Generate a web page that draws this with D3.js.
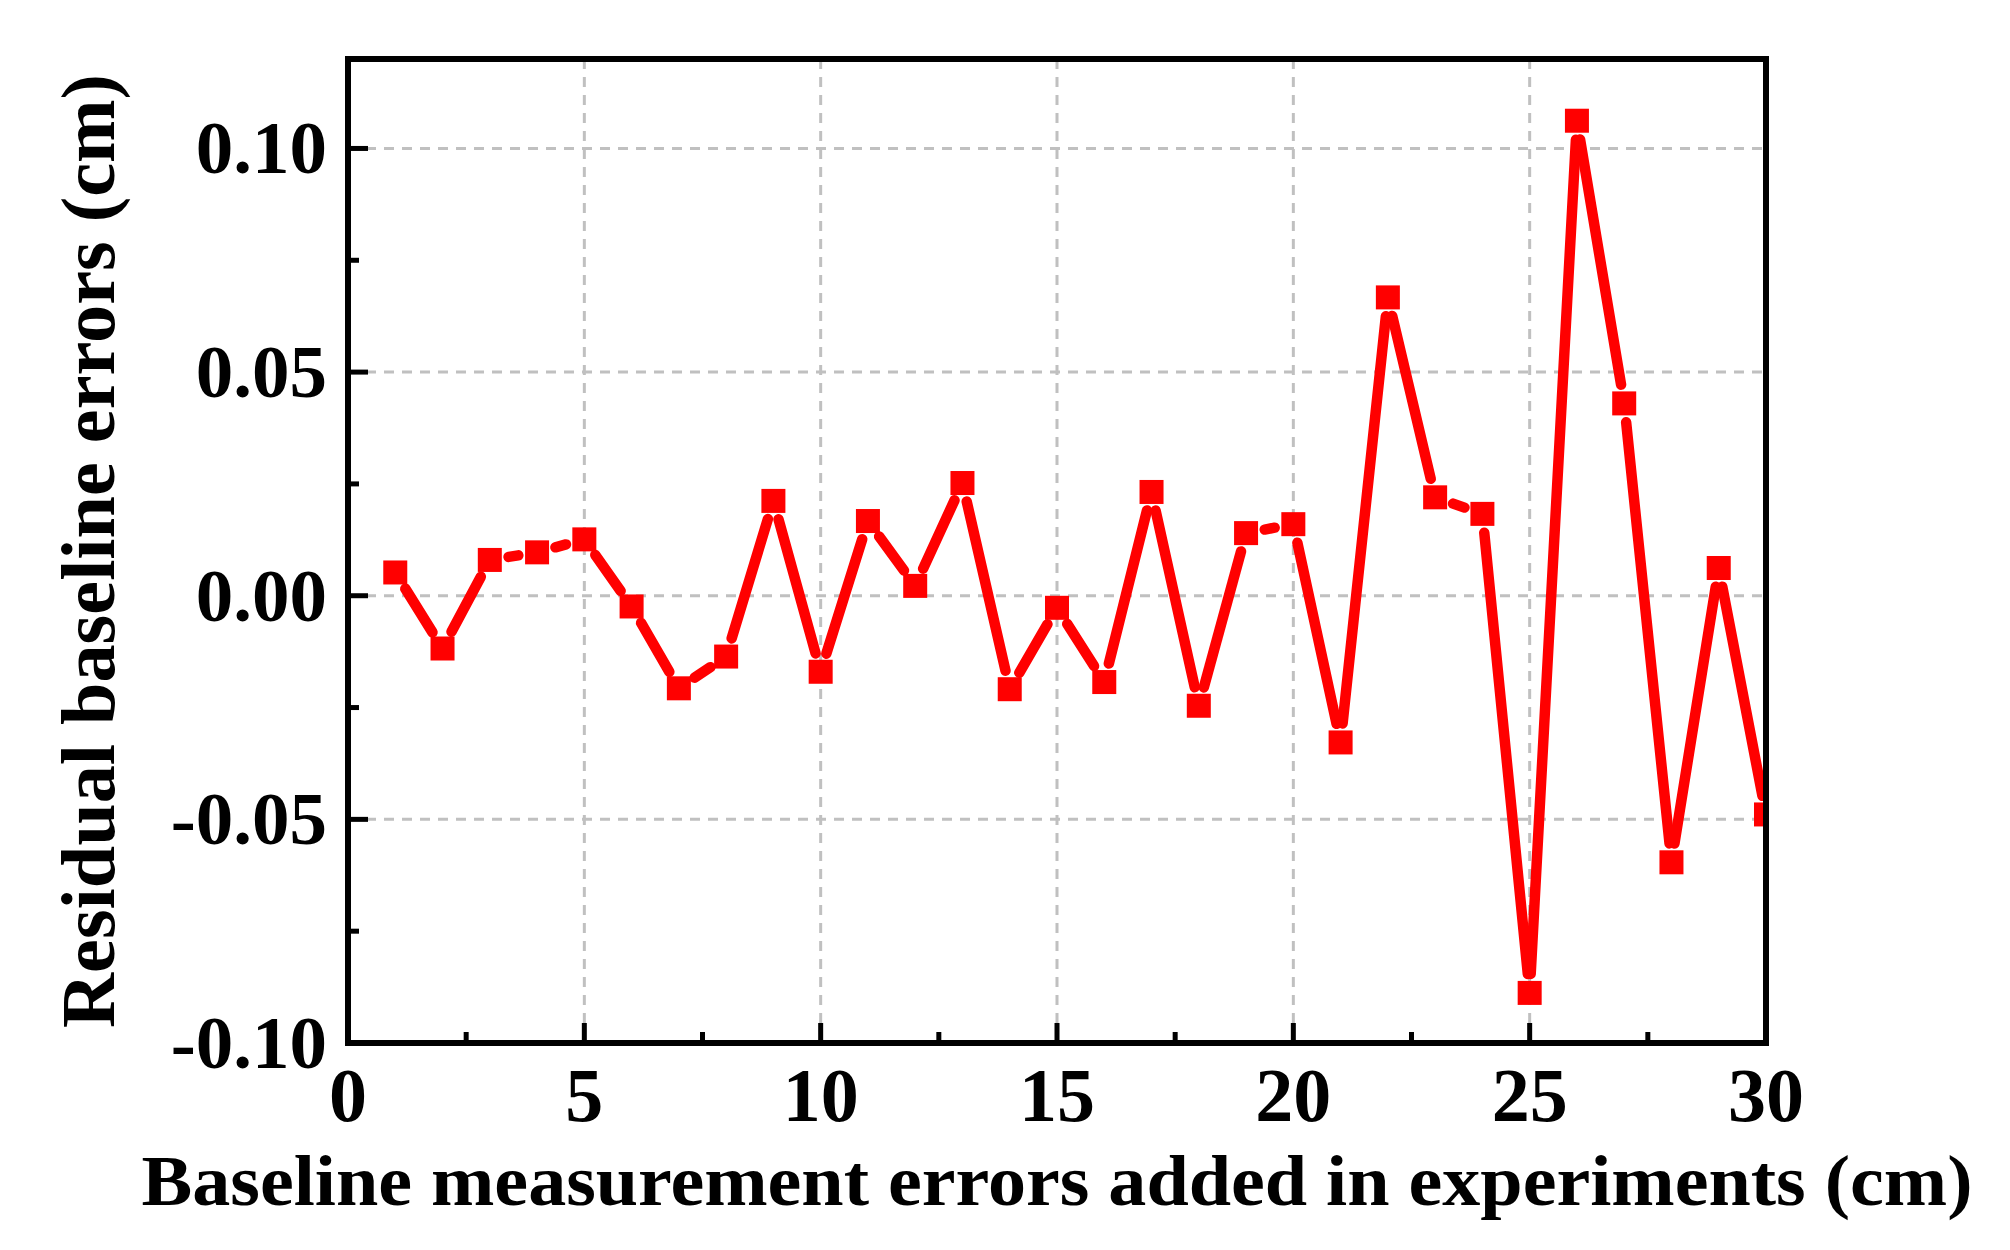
<!DOCTYPE html>
<html>
<head>
<meta charset="utf-8">
<script src="https://cdn.jsdelivr.net/npm/d3@7"></script>
<style>
  html, body { margin: 0; padding: 0; background: #fff; }
  svg { display: block; }
</style>
</head>
<body>
<svg id="chart" width="2010" height="1250"></svg>
<script>
// ---- data ----
const xValues = [1,2,3,4,5,6,7,8,9,10,11,12,13,14,15,16,17,18,19,20,21,22,23,24,25,26,27,28,29,30];
const residuals = [0.0052,-0.0118,0.0080,0.0097,0.0126,-0.0024,-0.0207,-0.0136,0.0212,-0.0170,
                   0.0167,0.0022,0.0252,-0.0209,-0.0027,-0.0193,0.0232,-0.0246,0.0140,0.0160,
                   -0.0328,0.0667,0.0220,0.0183,-0.0888,0.1062,0.0430,-0.0596,0.0062,-0.0489];
const xMajorTicks = [0,5,10,15,20,25,30];
const xMinorTicks = [2.5,7.5,12.5,17.5,22.5,27.5];
const yMajorTicks = [-0.10,-0.05,0.00,0.05,0.10];
const yMinorTicks = [-0.075,-0.025,0.025,0.075];
const yTickLabels = ["-0.10","-0.05","0.00","0.05","0.10"];
const xTitle = "Baseline measurement errors added in experiments (cm)";
const yTitle = "Residual baseline errors (cm)";

// ---- layout ----
const L = 348, R = 1766, T = 59, B = 1043;
const FONT = "'Liberation Serif','Times New Roman',serif";
const svg = d3.select("#chart");
const x = d3.scaleLinear().domain([0,30]).range([L,R]);
const y = d3.scaleLinear().domain([-0.10,0.12]).range([B,T]);

svg.append("defs").append("clipPath").attr("id","plotclip")
  .append("rect").attr("x",L).attr("y",T).attr("width",R-L).attr("height",B-T);

// grid
const grid = svg.append("g").attr("stroke","#c0c0c0").attr("stroke-width",3).attr("stroke-dasharray","10,8");
grid.selectAll("line.gx").data(xMajorTicks.filter(d => d > 0 && d < 30)).enter().append("line")
  .attr("x1",d=>x(d)).attr("x2",d=>x(d)).attr("y1",T).attr("y2",B);
grid.selectAll("line.gy").data(yMajorTicks.filter(d => d > -0.1)).enter().append("line")
  .attr("y1",d=>y(d)).attr("y2",d=>y(d)).attr("x1",L).attr("x2",R);

// data line with gaps near symbols
const pts = xValues.map((xv,i)=>({px:x(xv), py:y(residuals[i])}));
const gap = 19;
const segs = [];
for (let i=0;i<pts.length-1;i++){
  const a=pts[i], b=pts[i+1];
  const dx=b.px-a.px, dy=b.py-a.py, d=Math.hypot(dx,dy);
  if (d>2*gap){
    const ux=dx/d, uy=dy/d;
    segs.push({x1:a.px+ux*gap,y1:a.py+uy*gap,x2:b.px-ux*gap,y2:b.py-uy*gap});
  }
}
const plot = svg.append("g").attr("clip-path","url(#plotclip)");
plot.selectAll("line.seg").data(segs).enter().append("line")
  .attr("x1",d=>d.x1).attr("y1",d=>d.y1).attr("x2",d=>d.x2).attr("y2",d=>d.y2)
  .attr("stroke","#ff0000").attr("stroke-width",10.5).attr("stroke-linecap","round");

const ms = 24;
plot.selectAll("rect.m").data(xValues).enter().append("rect")
  .attr("x",(d)=>x(d)-ms/2).attr("y",(d,i)=>y(residuals[i])-ms/2)
  .attr("width",ms).attr("height",ms).attr("fill","#ff0000");

// ticks (inward, bottom and left only)
const tk = svg.append("g").attr("stroke","#000").attr("stroke-width",5);
tk.selectAll("line.xM").data(xMajorTicks).enter().append("line")
  .attr("x1",d=>x(d)).attr("x2",d=>x(d)).attr("y1",B).attr("y2",B-20);
tk.selectAll("line.xm").data(xMinorTicks).enter().append("line")
  .attr("x1",d=>x(d)).attr("x2",d=>x(d)).attr("y1",B).attr("y2",B-11);
tk.selectAll("line.yM").data(yMajorTicks).enter().append("line")
  .attr("y1",d=>y(d)).attr("y2",d=>y(d)).attr("x1",L).attr("x2",L+20);
tk.selectAll("line.ym").data(yMinorTicks).enter().append("line")
  .attr("y1",d=>y(d)).attr("y2",d=>y(d)).attr("x1",L).attr("x2",L+11);

// frame
svg.append("rect").attr("x",L).attr("y",T).attr("width",R-L).attr("height",B-T)
  .attr("fill","none").attr("stroke","#000").attr("stroke-width",6);

// tick labels
svg.append("g").selectAll("text").data(xMajorTicks).enter().append("text")
  .attr("x",d=>x(d)).attr("y",1121).attr("text-anchor","middle")
  .attr("font-family",FONT).attr("font-weight","bold").attr("font-size",76)
  .text(d=>String(d));
svg.append("g").selectAll("text").data(yMajorTicks).enter().append("text")
  .attr("x",327).attr("y",d=>y(d)+25).attr("text-anchor","end")
  .attr("font-family",FONT).attr("font-weight","bold").attr("font-size",75)
  .text((d,i)=>yTickLabels[i]);

// axis titles
svg.append("text").attr("x",(L+R)/2).attr("y",1205).attr("text-anchor","middle")
  .attr("font-family",FONT).attr("font-weight","bold").attr("font-size",72)
  .attr("textLength",1831).attr("lengthAdjust","spacingAndGlyphs")
  .text(xTitle);
svg.append("text").attr("transform",`translate(114,${(T+B)/2}) rotate(-90)`)
  .attr("text-anchor","middle")
  .attr("font-family",FONT).attr("font-weight","bold").attr("font-size",77)
  .attr("textLength",954).attr("lengthAdjust","spacingAndGlyphs")
  .text(yTitle);
</script>
</body>
</html>
